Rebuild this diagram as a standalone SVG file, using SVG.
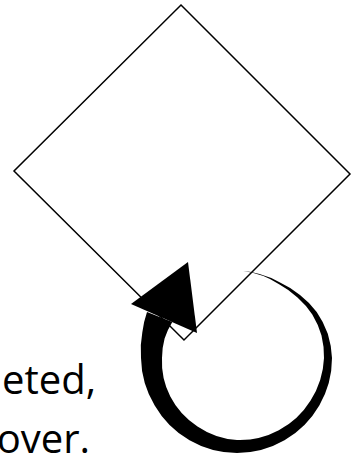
<svg xmlns="http://www.w3.org/2000/svg" width="358" height="458" viewBox="0 0 358 458">
  <style>
    .shape { fill: #ffffff; stroke: #000000; stroke-width: 1.5; stroke-linejoin: miter; }
    .loop { fill: #000000; stroke: none; }
    .label { fill: #000000; font-family: "Open Sans", "Noto Sans", sans-serif; font-size: 40px; }
  </style>
  <rect width="358" height="458" fill="#ffffff"/>
  <g id="node-diamond">
    <polygon class="shape" points="181,5 350,174 184,340 14,171"/>
  </g>
  <g id="connectors">
    <path class="loop" d="M 243 271
      A 87 87 0 0 1 259.5 274
      A 87 87 0 0 1 280.5 282.7
      A 88 88 0 0 1 300 295
      A 90 90 0 0 1 316.7 312
      A 93 93 0 0 1 327.8 333.7
      A 94.5 94.5 0 0 1 332 358
      A 95 95 0 0 1 319.3 405.5
      A 95 95 0 0 1 284.5 440.3
      A 95 95 0 0 1 237 453
      A 95 95 0 0 1 189.5 440.3
      A 95 95 0 0 1 154.7 405.5
      A 95.5 95.5 0 0 1 141 358
      A 97 97 0 0 1 142.3 332.6
      A 99.5 99.5 0 0 1 147 312.1
      L 172.3 322.1
      A 74.5 74.5 0 0 0 164.6 338.6
      A 75 75 0 0 0 162 358
      A 76 76 0 0 0 170.3 396.5
      A 78 78 0 0 0 197.5 426.4
      A 80.5 80.5 0 0 0 237 440
      A 82.7 82.7 0 0 0 278.8 430.3
      A 84.3 84.3 0 0 0 310.6 400.5
      A 86 86 0 0 0 324 358
      A 87.2 87.2 0 0 0 321.5 335.4
      A 87.2 87.2 0 0 0 312.3 314.5
      A 86.2 86.2 0 0 0 297.5 297.5
      A 85.2 85.2 0 0 0 279.5 284.4
      A 86 86 0 0 0 243 271 Z"/>
    <polygon class="loop" points="188,262 131,304 197,333"/>
  </g>
  <g id="caption">
    <text class="label" x="96" y="394" text-anchor="end">eted,</text>
    <text class="label" x="90" y="453" text-anchor="end">over.</text>
  </g>
</svg>
